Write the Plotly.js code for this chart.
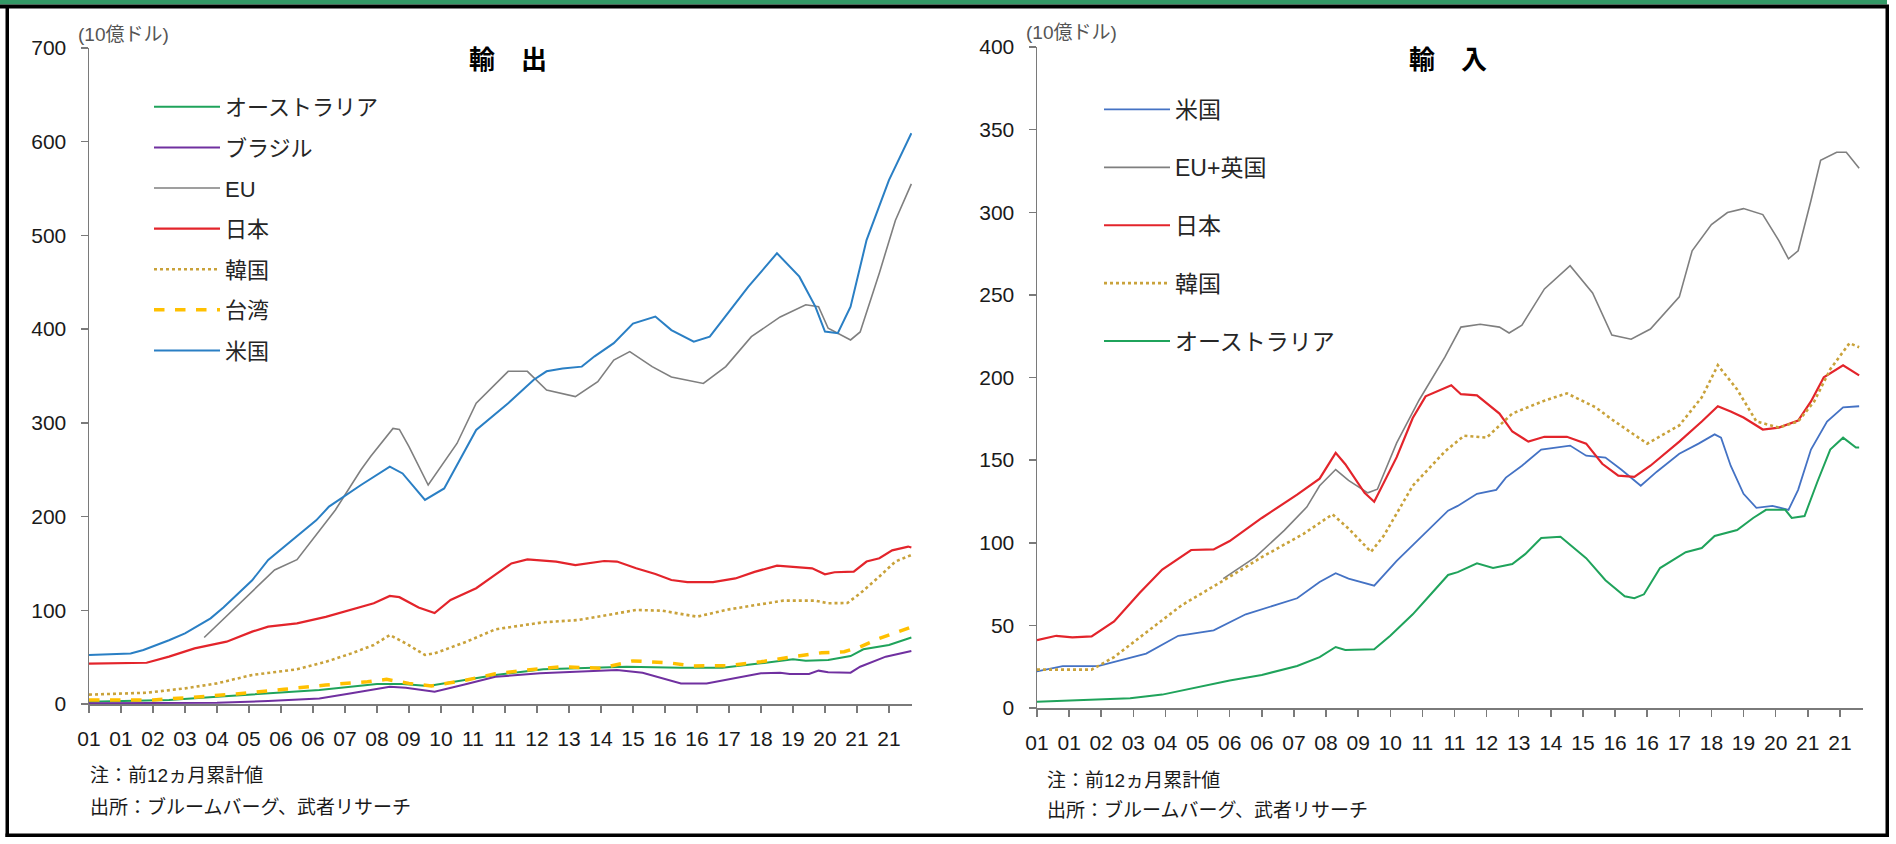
<!DOCTYPE html>
<html>
<head>
<meta charset="utf-8">
<script src="https://cdn.plot.ly/plotly-3.0.1.min.js"></script>
<style>
  html, body { margin: 0; padding: 0; background: #ffffff; }
  #chart { width: 1896px; height: 844px; }
</style>
</head>
<body>
<div id="chart"></div>
<script>
// x positions are month indices counted from 2001-01 (0 = Jan 2001)
const xTickLabels = ['01','01','02','03','04','05','06','06','07','08','09','10','11','11','12','13','14','15','16','16','17','18','19','20','21','21'];

// ===== 輸出 (exports, 10億ドル) =====
const exAusM = [0,25,40,56,72,90,98,106,118,127,142,168,185,198,210,220,224,231,238,242,250,257];
const exAusV = [2.5,4.3,7.8,11.4,14.9,21.3,21.3,19.2,26.3,30.9,37,39.8,38.7,38.7,43.4,47.7,46.2,46.9,51.2,58.4,63,71];

const exBraM = [0,40,56,72,82,94,99,108,118,127,141,153,165,173,179,185,193,202,210,216,219,225,228,231,238,241,249,257];
const exBraV = [0.8,1.4,3.2,6,11.4,18.5,17.4,13.1,21.3,29.1,32.7,34.5,36.3,33.4,27.4,22,22,27.4,32.7,33.4,32,32,35.6,33.8,33.4,39.8,50.5,56.6];

const exEuM = [36,46,58,65,77,85,88,95,97,100,106,115,121,131,137,143,152,159,164,169,176,182,192,199,207,216,224,228,231,238,241,247,252,257];
const exEuV = [71,104,143,154,207,250,264,294,293,274.6,233.7,278,321,355,355,335,328,344,367,376,360,349,342,360,392,413,426,424,401,388.5,397,460,516,555];

const exJpM = [0,12,18,25,33,43,51,56,65,74,82,89,94,97,103,108,113,121,127,132,137,146,152,157,161,165,171,177,182,187,195,202,208,215,226,230,233,239,243,247,251,256,257];
const exJpV = [43,44,44,50.5,59.4,66.5,77.2,82.5,86,93,100.3,107.5,115.3,114,103,97,111,123.5,138,150,154.4,152,148.3,150.8,152.6,152,144.8,138.7,132.3,130,130,134,141,147.6,144.8,138.4,140.6,141.2,152,155.5,164,168,167];

const exKrM = [0,18,30,40,51,65,74,82,89,94,99,105,108,118,127,142,153,166,171,179,190,200,210,217,227,231,237,241,247,252,257];
const exKrV = [10,12,16.7,22,31,37,45,54,63,73.6,64.7,52.3,54,66.5,79.7,87.2,89.6,96.8,100.3,99.6,93.2,101,106.7,110.3,110.3,107.5,107.8,118,136,152,159];

const exTwM = [0,20,35,46,61,74,87,93,100,107,118,127,137,148,160,170,181,189,200,210,220,229,236,241,247,257];
const exTwV = [4.3,4.3,7.8,10.7,15.7,20.3,23.8,26.3,22,19.2,25.6,32.3,36.3,39.8,38.1,46,44,40.6,40.9,45,50.5,54.7,55.8,61,70,82];

const exUsM = [0,13,17,25,30,38,42,51,56,66,71,75,85,94,98,105,111,121,131,139,143,148,154,158,164,170,177,182,189,194,206,215,222,227,230,234,238,243,250,257];
const exUsV = [52.3,54,57.6,68,75.4,91.4,103,132,153.7,182,196,210.6,233.7,253.3,246,217.7,230,292.4,321,346,355,358,360,371,385,406,413.4,399,386.7,392,445,481,456,424,397.4,395.7,424,495,559,609];

// ===== 輸入 (imports, 10億ドル) =====
const imUsM = [0,8,19,34,44,55,65,81,88,93,97,105,112,120,128,131,137,143,146,151,157,166,171,177,182,188,193,200,206,211,213,216,220,224,229,234,237,241,246,251,256];
const imUsV = [22.1,25.4,25.4,32.9,43.7,47,56.7,66.4,76.2,81.6,78.3,74,89,104.3,119.4,122.3,129.6,132,139.4,146.6,156.4,158.8,152.7,151.5,144.2,134.5,143,153.9,160,165.6,163.6,146.6,129.6,121.1,122.3,119.9,132,156.4,173.4,181.9,182.6];

const imEuM = [58,68,77,84,88,93,97,103,106,112,119,127,132,138,144,147,151,158,166,173,179,185,191,200,204,210,215,220,226,231,234,237,241,244,249,252,256];
const imEuV = [78.3,91.3,107.5,121.6,134.5,144.3,137.7,130.2,132.4,160.4,186.4,212.3,230.5,232.2,230.5,226.9,231.7,253.6,267.7,251.2,225.7,223.2,229.3,248.8,276.7,292.5,299.8,302.2,298.6,282.8,271.8,276.7,307.1,331.4,336.3,336.3,326.6];

const imJpM = [0,6,11,17,24,32,39,48,55,60,70,81,88,93,96,102,105,112,117,121,129,132,137,144,148,153,158,165,171,176,181,186,191,200,207,212,216,220,226,231,237,241,245,251,256];
const imJpV = [41.1,43.7,42.7,43.3,52.4,69.7,83.8,95.6,96,101,115,129.1,138.8,154.4,147.5,130.2,124.8,151.8,175.5,188.6,195.3,189.9,189.2,178.2,167.3,161.2,164.1,164.1,160,147.8,140.6,139.9,146.6,161.2,173.4,182.6,179.4,175.8,168.5,169.7,173.9,185.5,200.1,207.4,201.3];

const imKrM = [0,17,24,34,45,60,70,83,92,97,104,108,117,127,133,140,148,158,165,174,179,190,200,207,212,218,224,231,237,242,247,253,256];
const imKrV = [23.2,23.2,30.8,45.9,62.1,79.4,91.3,105.4,117.2,108.6,94.5,104.3,134.5,155.2,164.8,163.6,178.2,186,190.4,181.9,174.6,160,171,188,207.4,192.8,173.4,169.7,173.4,185.5,205,220.8,218.3];

const imAusM = [0,29,39,50,60,70,81,88,93,96,105,110,117,122,128,131,137,142,148,152,157,163,171,177,183,186,189,194,202,207,211,218,223,227,233,235,239,243,247,251,255,256];
const imAusV = [3.8,5.9,8.1,12.4,16.7,20,25.4,30.8,36.9,35.1,35.5,43.7,56.7,67.5,80.5,82.2,87.6,84.7,87.1,93.1,102.9,103.6,90.7,77.3,67.6,66.4,68.8,84.7,94.3,96.8,104.1,107.7,115,119.9,119.9,115,116.2,136.9,156.4,163.6,157.6,157.6];

const LATIN = 'Liberation Sans, Arial, sans-serif';
const JP = 'Liberation Sans, "Noto Sans CJK JP", sans-serif';

function line(name, xs, ys, color, width, dash, xa, ya, lg, grp) {
  return {
    type: 'scatter', mode: 'lines', name: name, x: xs, y: ys,
    xaxis: xa, yaxis: ya, legend: lg, legendgroup: grp,
    line: { color: color, width: width, dash: dash || 'solid' },
    hoverinfo: 'skip'
  };
}

const traces = [
  line('オーストラリア', exAusM, exAusV, '#1fa35b', 2, 'solid', 'x', 'y', 'legend', 'a1'),
  line('ブラジル', exBraM, exBraV, '#7030a0', 2, 'solid', 'x', 'y', 'legend', 'a2'),
  line('EU', exEuM, exEuV, '#7f7f7f', 1.6, 'solid', 'x', 'y', 'legend', 'a3'),
  line('日本', exJpM, exJpV, '#e3242b', 2.2, 'solid', 'x', 'y', 'legend', 'a4'),
  line('韓国', exKrM, exKrV, '#c9a23a', 2.6, 'dot', 'x', 'y', 'legend', 'a5'),
  line('台湾', exTwM, exTwV, '#ffc000', 3.5, 'dash', 'x', 'y', 'legend', 'a6'),
  line('米国', exUsM, exUsV, '#2a7fc4', 2, 'solid', 'x', 'y', 'legend', 'a7'),

  line('米国', imUsM, imUsV, '#4472c4', 1.8, 'solid', 'x2', 'y2', 'legend2', 'b1'),
  line('EU+英国', imEuM, imEuV, '#7f7f7f', 1.6, 'solid', 'x2', 'y2', 'legend2', 'b2'),
  line('日本', imJpM, imJpV, '#e3242b', 2.2, 'solid', 'x2', 'y2', 'legend2', 'b3'),
  line('韓国', imKrM, imKrV, '#c9a23a', 2.6, 'dot', 'x2', 'y2', 'legend2', 'b4'),
  line('オーストラリア', imAusM, imAusV, '#1fa35b', 2, 'solid', 'x2', 'y2', 'legend2', 'b5')
];

const W = 1896, H = 844;
const px = v => v / W;
const py = v => 1 - v / H;

const tickVals = xTickLabels.map((_, i) => i * 10);

function xAxis(domain, anchor) {
  return {
    domain: domain, anchor: anchor, range: [0, 257.2],
    tickmode: 'array', tickvals: tickVals, ticktext: xTickLabels,
    showgrid: false, zeroline: false,
    showline: true, linecolor: '#7a7a7a', linewidth: 2,
    ticks: 'outside', ticklen: 7, tickwidth: 1.5, tickcolor: '#7a7a7a',
    ticklabelstandoff: 8,
    tickfont: { family: LATIN, size: 21, color: '#1a1a1a' },
    fixedrange: true
  };
}
function yAxis(domain, anchor, max, dtick) {
  return {
    domain: domain, anchor: anchor, range: [0, max], dtick: dtick,
    showgrid: false, zeroline: false,
    showline: true, linecolor: '#7a7a7a', linewidth: 1.5,
    ticks: 'outside', ticklen: 7, tickwidth: 1.5, tickcolor: '#7a7a7a',
    ticklabelstandoff: 10,
    tickfont: { family: LATIN, size: 21, color: '#1a1a1a' },
    fixedrange: true
  };
}

const layout = {
  width: W, height: H,
  margin: { l: 0, r: 0, t: 0, b: 0 },
  paper_bgcolor: '#ffffff', plot_bgcolor: 'rgba(0,0,0,0)',
  showlegend: true,
  xaxis: xAxis([px(89), px(912)], 'y'),
  yaxis: yAxis([py(704), py(48)], 'x', 700, 100),
  xaxis2: xAxis([px(1037), px(1863)], 'y2'),
  yaxis2: yAxis([py(708), py(47)], 'x2', 400, 50),
  legend: {
    x: px(149), y: py(86), xanchor: 'left', yanchor: 'top',
    bgcolor: 'rgba(0,0,0,0)', borderwidth: 0,
    font: { family: JP, size: 22, color: '#262626' },
    itemwidth: 66, tracegroupgap: 9, traceorder: 'grouped', itemclick: false
  },
  legend2: {
    x: px(1099), y: py(88), xanchor: 'left', yanchor: 'top',
    bgcolor: 'rgba(0,0,0,0)', borderwidth: 0,
    font: { family: JP, size: 23, color: '#262626' },
    itemwidth: 66, tracegroupgap: 25, traceorder: 'grouped', itemclick: false
  },
  annotations: [
    { text: '<b>輸　出</b>', xref: 'paper', yref: 'paper', x: px(508), y: py(57), xanchor: 'center', yanchor: 'middle', showarrow: false, font: { family: '"Noto Sans CJK JP", sans-serif', size: 26, color: '#000000' } },
    { text: '<b>輸　入</b>', xref: 'paper', yref: 'paper', x: px(1448), y: py(57), xanchor: 'center', yanchor: 'middle', showarrow: false, font: { family: '"Noto Sans CJK JP", sans-serif', size: 26, color: '#000000' } },
    { text: '(10億ドル)', xref: 'paper', yref: 'paper', x: px(76), y: py(35), xanchor: 'left', yanchor: 'middle', showarrow: false, font: { family: JP, size: 19, color: '#555555' } },
    { text: '(10億ドル)', xref: 'paper', yref: 'paper', x: px(1024), y: py(33), xanchor: 'left', yanchor: 'middle', showarrow: false, font: { family: JP, size: 19, color: '#555555' } },
    { text: '注：前12ヵ月累計値', xref: 'paper', yref: 'paper', x: px(88), y: py(775), xanchor: 'left', yanchor: 'middle', showarrow: false, font: { family: JP, size: 19, color: '#1a1a1a' } },
    { text: '出所：ブルームバーグ、武者リサーチ', xref: 'paper', yref: 'paper', x: px(88), y: py(807), xanchor: 'left', yanchor: 'middle', showarrow: false, font: { family: JP, size: 19, color: '#1a1a1a' } },
    { text: '注：前12ヵ月累計値', xref: 'paper', yref: 'paper', x: px(1045), y: py(780), xanchor: 'left', yanchor: 'middle', showarrow: false, font: { family: JP, size: 19, color: '#1a1a1a' } },
    { text: '出所：ブルームバーグ、武者リサーチ', xref: 'paper', yref: 'paper', x: px(1045), y: py(810), xanchor: 'left', yanchor: 'middle', showarrow: false, font: { family: JP, size: 19, color: '#1a1a1a' } }
  ],
  shapes: [
    { type: 'rect', xref: 'paper', yref: 'paper', x0: 0, x1: px(1887), y0: py(4.5), y1: 1, fillcolor: '#339966', line: { width: 0 }, layer: 'above' },
    { type: 'rect', xref: 'paper', yref: 'paper', x0: 0, x1: px(1889), y0: py(8.5), y1: py(4.5), fillcolor: '#000000', line: { width: 0 }, layer: 'above' },
    { type: 'rect', xref: 'paper', yref: 'paper', x0: px(5.5), x1: px(9), y0: py(837), y1: py(8), fillcolor: '#000000', line: { width: 0 }, layer: 'above' },
    { type: 'rect', xref: 'paper', yref: 'paper', x0: px(1885.5), x1: px(1889), y0: py(837), y1: py(8), fillcolor: '#000000', line: { width: 0 }, layer: 'above' },
    { type: 'rect', xref: 'paper', yref: 'paper', x0: px(5.5), x1: px(1889), y0: py(837), y1: py(833.5), fillcolor: '#000000', line: { width: 0 }, layer: 'above' }
  ]
};

Plotly.newPlot('chart', traces, layout, { staticPlot: true, displayModeBar: false });
</script>
</body>
</html>
